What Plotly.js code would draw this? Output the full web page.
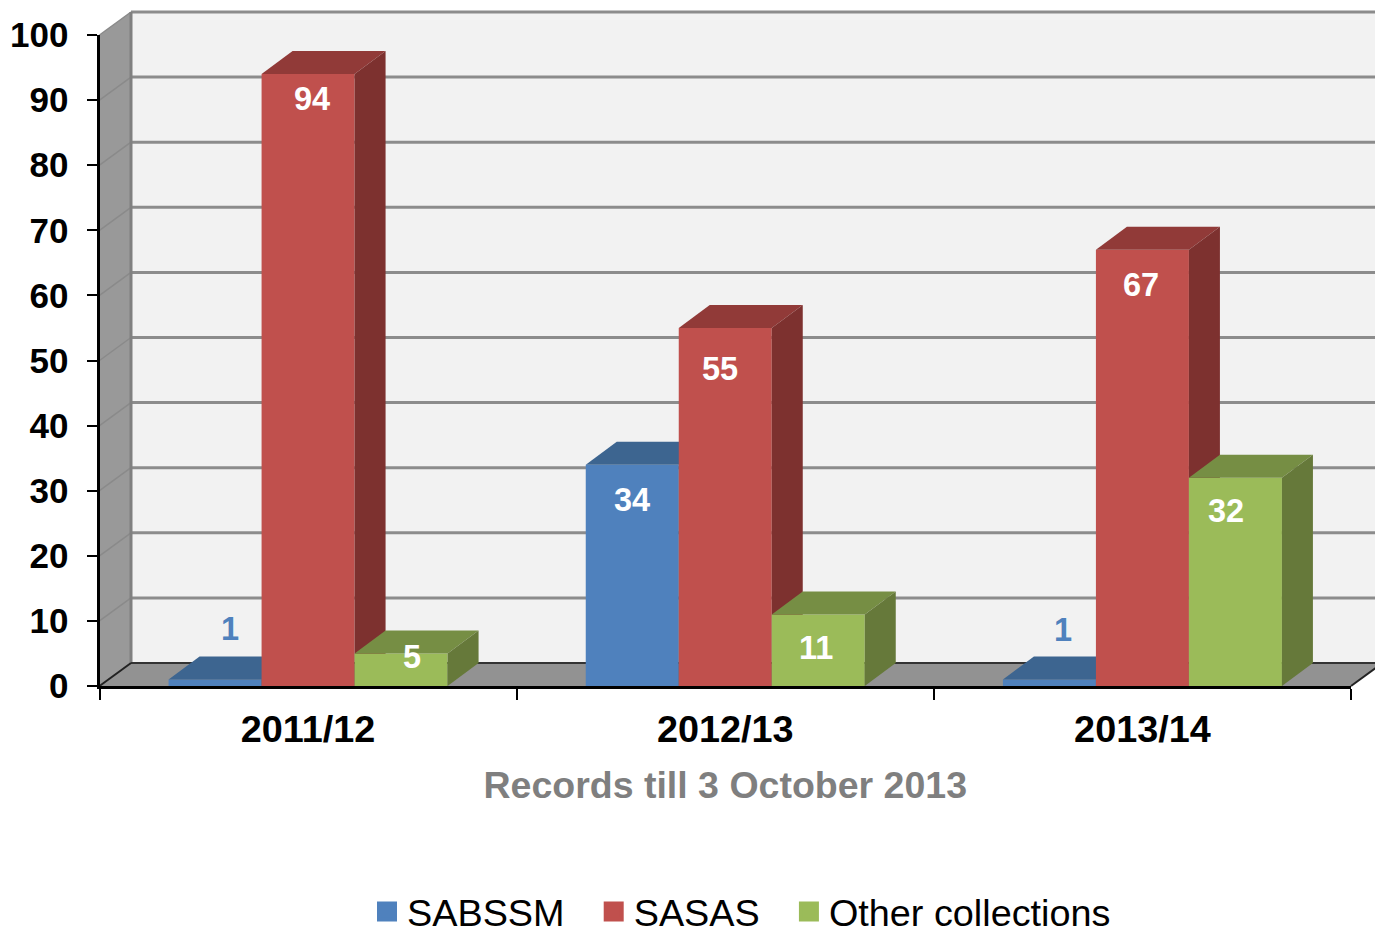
<!DOCTYPE html>
<html>
<head>
<meta charset="utf-8">
<script src="https://cdn.plot.ly/plotly-3.0.1.min.js"></script>
<style>html,body{margin:0;padding:0;background:#fff;overflow:hidden}</style>
</head>
<body>
<div id="chart" style="width:1375px;height:929px"></div>
<script>
// Records per financial year and collection
const categories = ['2011/12', '2012/13', '2013/14'];
const seriesNames = ['SABSSM', 'SASAS', 'Other collections'];
const sabssm = [1, 34, 1];
const sasas = [94, 55, 67];
const otherCollections = [5, 11, 32];
const yTicks = [0, 10, 20, 30, 40, 50, 60, 70, 80, 90, 100];

// Colours of each series: front, top and side faces
const frontColours = ['#4f81bd', '#c0504d', '#9bbb59'];
const topColours = ['#3d6590', '#913a38', '#768e44'];
const sideColours = ['#355779', '#7d312f', '#66793a'];

// Page and plot frame in pixels
const pageW = 1375, pageH = 929;
const plotLeft = 99.5, plotRight = 1351, plotTop = 35, plotBottom = 686;
const xMin = -0.5, xMax = 2.5, yMin = 0, yMax = 100;
const pxPerX = (plotRight - plotLeft) / (xMax - xMin);
const pxPerY = (plotBottom - plotTop) / (yMax - yMin);

// Oblique projection: how far the box depth shifts a face, in axis units
const barWidth = 93 / pxPerX;
const barDepthX = 31 / pxPerX;
const barDepthY = 23 / pxPerY;
const wallDepthX = 31.5 / pxPerX;
const wallDepthY = 23 / pxPerY;

// Pixel nudges of the value labels relative to each bar's top centre
const labelShiftX = [[14.5, 0, 13.5], [3.5, -5.5, -1.5], [10.5, -2.5, -9.5]];
const labelShiftY = [[50.5, -35.5, 49.5], [-24.5, -41, -35], [-3.5, -33.5, -33]];

const allSeries = [sabssm, sasas, otherCollections];
const yAxisIds = ['y2', 'y3', 'y4'];
const fontFamily = '"Liberation Sans", Arial, sans-serif';

function polygon(xs, ys, colour, xaxis, yaxis) {
  return {
    type: 'scatter', mode: 'none', x: xs, y: ys, fill: 'toself', fillcolor: colour,
    xaxis: xaxis, yaxis: yaxis, showlegend: false, hoverinfo: 'skip'
  };
}
function segments(pairs, colour, width) {
  const xs = [], ys = [];
  pairs.forEach(p => { xs.push(p[0], p[2], null); ys.push(p[1], p[3], null); });
  return {
    type: 'scatter', mode: 'lines', x: xs, y: ys, line: {color: colour, width: width},
    xaxis: 'x', yaxis: 'y', showlegend: false, hoverinfo: 'skip'
  };
}

const traces = [];

// Backdrop subplot: back wall, side wall and floor, free to run past the plot frame
const backLeft = xMin + wallDepthX, backRight = xMax + wallDepthX;
traces.push(polygon([backLeft, backRight, backRight, backLeft],
  [yMin + wallDepthY, yMin + wallDepthY, yMax + wallDepthY, yMax + wallDepthY], '#f2f2f2', 'x', 'y'));
traces.push(polygon([xMin, backLeft, backLeft, xMin],
  [yMin, yMin + wallDepthY, yMax + wallDepthY, yMax], '#999999', 'x', 'y'));
traces.push(polygon([xMin, xMax, backRight, backLeft],
  [yMin, yMin, yMin + wallDepthY, yMin + wallDepthY], '#929292', 'x', 'y'));

// Gridlines continue from the axis across the side wall and along the back wall
traces.push(segments(yTicks.slice(1).map(t => [xMin, t, backLeft, t + wallDepthY]), '#8a8a8a', 1.5));
traces.push(segments(yTicks.slice(1).map(t => [backLeft, t + wallDepthY, backRight, t + wallDepthY]), '#8c8c8c', 3));
traces.push(segments([[backLeft, yMin + wallDepthY, backLeft, yMax + wallDepthY]], '#808080', 3));
traces.push(segments([[backLeft, yMin + wallDepthY, backRight, yMin + wallDepthY]], '#333333', 2));
traces.push(segments([[xMin, yMin, backLeft, yMin + wallDepthY], [xMax, yMin, backRight, yMin + wallDepthY]], '#222222', 2));

// Each series sits on its own overlaid axis so that later bars paint over earlier faces
allSeries.forEach((values, s) => {
  const offset = (s - 1.5) * barWidth;
  const yaxis = yAxisIds[s];
  traces.push({
    type: 'bar', x: categories.map((_, i) => i), y: values, width: barWidth, offset: offset,
    marker: {color: frontColours[s], line: {width: 0}}, xaxis: 'x2', yaxis: yaxis, name: seriesNames[s],
    showlegend: false, hovertemplate: '%{y}<extra>' + seriesNames[s] + '</extra>'
  });
  values.forEach((v, i) => {
    const left = i + offset, right = left + barWidth;
    traces.push(polygon(
      [left, right, right + barDepthX, left + barDepthX],
      [v, v, v + barDepthY, v + barDepthY], topColours[s], 'x2', yaxis));
    traces.push(polygon(
      [right, right + barDepthX, right + barDepthX, right],
      [0, barDepthY, v + barDepthY, v], sideColours[s], 'x2', yaxis));
  });
});

// Legend entries; the padding spaces set the distance between entries
const legendPadding = ['\u00a0\u00a0\u200a', '\u00a0\u00a0\u200a', ''];
seriesNames.forEach((name, s) => {
  traces.push({
    type: 'scatter', mode: 'markers', x: [null], y: [null], xaxis: 'x', yaxis: 'y', name: name + legendPadding[s],
    marker: {symbol: 'square', size: 16, color: frontColours[s], line: {color: frontColours[s], width: 4}},
    hoverinfo: 'skip'
  });
});

const annotations = [];
allSeries.forEach((values, s) => {
  values.forEach((v, i) => {
    annotations.push({
      xref: 'x2', yref: 'y2', x: i + (s - 1) * barWidth, y: v, text: String(v), showarrow: false,
      xanchor: 'center', yanchor: 'middle',
      xshift: labelShiftX[s][i], yshift: labelShiftY[s][i],
      font: {family: fontFamily, size: 32.5, weight: 'bold', color: v === 1 ? frontColours[0] : '#ffffff'}
    });
  });
});

const overlayAxis = () => ({overlaying: 'y2', matches: 'y2', anchor: 'x2', visible: false, range: [yMin, yMax]});
const layout = {
  width: pageW, height: pageH, autosize: false,
  margin: {l: 0, r: 0, t: 0, b: 0, pad: 0, autoexpand: false},
  paper_bgcolor: '#ffffff', plot_bgcolor: 'rgba(0,0,0,0)',
  showlegend: true,
  legend: {
    orientation: 'h', x: 367 / pageW, xanchor: 'left', y: (pageH - 912) / pageH, yanchor: 'middle',
    bgcolor: 'rgba(0,0,0,0)', borderwidth: 0, traceorder: 'normal',
    font: {family: fontFamily, size: 37.8, color: '#000000'}
  },
  annotations: annotations,
  // Hidden axes of the backdrop share the scale of the visible ones and span the whole page
  xaxis: {
    domain: [0, 1], visible: false, fixedrange: true, anchor: 'y',
    range: [xMin - plotLeft / pxPerX, xMax + (pageW - plotRight) / pxPerX]
  },
  yaxis: {
    domain: [0, 1], visible: false, fixedrange: true, anchor: 'x',
    range: [yMin - (pageH - plotBottom) / pxPerY, yMax + plotTop / pxPerY]
  },
  xaxis2: {
    domain: [plotLeft / pageW, plotRight / pageW], anchor: 'y2',
    type: 'linear', range: [xMin, xMax], fixedrange: true, showgrid: false, zeroline: false,
    showline: true, linecolor: '#000000', linewidth: 3,
    tickmode: 'array', tickvals: categories.map((_, i) => i), ticktext: categories,
    ticks: '', ticklabelstandoff: 8,
    tickfont: {family: fontFamily, size: 37.8, color: '#000000', weight: 'bold'},
    minor: {
      tickmode: 'array', tickvals: categories.map((_, i) => i - 0.5).concat([categories.length - 0.5]),
      ticks: 'outside', ticklen: 11, tickwidth: 2, tickcolor: '#000000', showgrid: false
    },
    title: {
      text: 'Records till 3 October 2013', standoff: 23,
      font: {family: fontFamily, size: 37.5, color: '#7f7f7f', weight: 'bold'}
    }
  },
  yaxis2: {
    domain: [(pageH - plotBottom) / pageH, (pageH - plotTop) / pageH], anchor: 'x2',
    range: [yMin, yMax], fixedrange: true, showgrid: false, zeroline: false,
    showline: true, linecolor: '#000000', linewidth: 3,
    tickmode: 'array', tickvals: yTicks, ticks: 'outside', ticklen: 10, tickwidth: 2, tickcolor: '#000000',
    ticklabelstandoff: 11,
    tickfont: {family: fontFamily, size: 35, color: '#000000', weight: 'bold'}
  },
  yaxis3: overlayAxis(),
  yaxis4: overlayAxis()
};

Plotly.newPlot('chart', traces, layout, {displayModeBar: false, responsive: false});
</script>
</body>
</html>
